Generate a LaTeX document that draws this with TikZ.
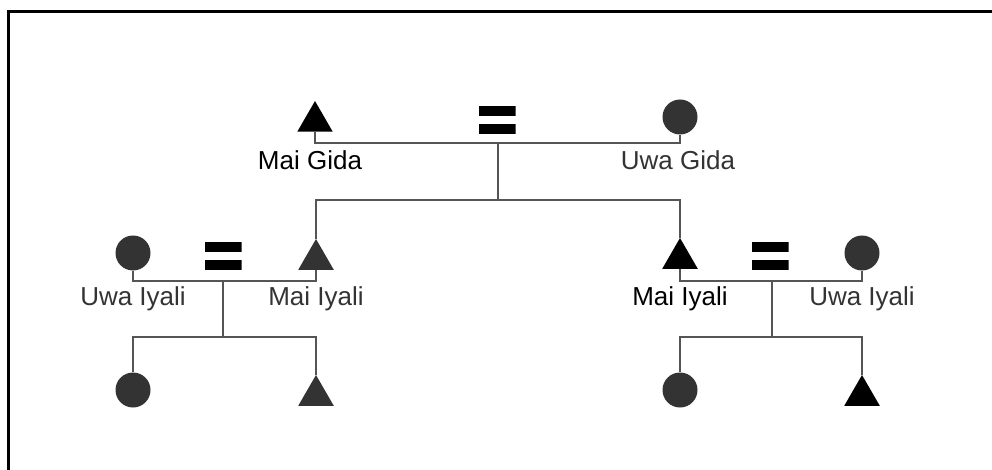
\documentclass[tikz,border=0pt]{standalone}
\usepackage{fontspec}
\setmainfont{Liberation Sans}
\usetikzlibrary{shapes.geometric}
\definecolor{ink}{HTML}{333333}
\definecolor{wire}{HTML}{555555}
\begin{document}
\begin{tikzpicture}[x=1pt,y=-1pt,
  male/.style={regular polygon, regular polygon sides=3, fill=#1, draw=none,
               inner sep=0pt, minimum size=41pt},
  male/.default=black,
  female/.style={circle, fill=ink, draw=none, inner sep=0pt, minimum size=35pt},
  kin/.style={draw=wire, line width=2pt},
  lbl/.style={font=\fontsize{26}{30}\selectfont, text=#1, anchor=base, inner sep=0pt},
  lbl/.default=ink,
  marriage/.style={minimum width=37pt, minimum height=28pt, inner sep=0pt,
    path picture={
      \fill[black] (path picture bounding box.north west)
        rectangle ([yshift=-10pt]path picture bounding box.north east);
      \fill[black] ([yshift=10pt]path picture bounding box.south west)
        rectangle (path picture bounding box.south east);}}]
\useasboundingbox (0,0) rectangle (992,470);

% frame
\draw[line width=3pt] (8,470) -- (8,12) -- (992,12);

% parents
\node[male]   (mg) at (315,121.5) {};
\node[female] (ug) at (680,117) {};
\node[marriage] (eq0) at (497,120) {};
\node[lbl=black] (tmg) at (310,170) {Mai Gida};
\node[lbl] (tug) at (678,170) {Uwa Gida};
\coordinate (m0) at (498,143);
\coordinate (c0) at (498,200);

% left family
\node[female] (lw) at (133,253) {};
\node[male=ink] (lm) at (316,259.5) {};
\node[marriage] (eq1) at (223,256) {};
\node[lbl] (tlw) at (133,305) {Uwa Iyali};
\node[lbl] (tlm) at (316,305) {Mai Iyali};
\coordinate (m1) at (223,281);
\coordinate (c1) at (223,337);
\node[female] (la) at (133,390) {};
\node[male=ink] (lb) at (316,395.5) {};

% right family
\node[male] (rm) at (680,258.5) {};
\node[female] (rw) at (862,253) {};
\node[marriage] (eq2) at (770,256) {};
\node[lbl=black] (trm) at (680,305) {Mai Iyali};
\node[lbl] (trw) at (862,305) {Uwa Iyali};
\coordinate (m2) at (772,281);
\coordinate (c2) at (772,337);
\node[female] (ra) at (680,390) {};
\node[male] (rb) at (862,395.5) {};

% connectors
\draw[kin] (mg.south) |- (m0) -| (ug.south);
\draw[kin] (m0) -- (c0);
\draw[kin] (lm.north) |- (c0) -| (rm.north);

\draw[kin] (lw.south) |- (m1) -| (lm.south);
\draw[kin] (m1) -- (c1);
\draw[kin] (la.north) |- (c1) -| (lb.north);

\draw[kin] (rm.south) |- (m2) -| (rw.south);
\draw[kin] (m2) -- (c2);
\draw[kin] (ra.north) |- (c2) -| (rb.north);
\end{tikzpicture}
\end{document}
